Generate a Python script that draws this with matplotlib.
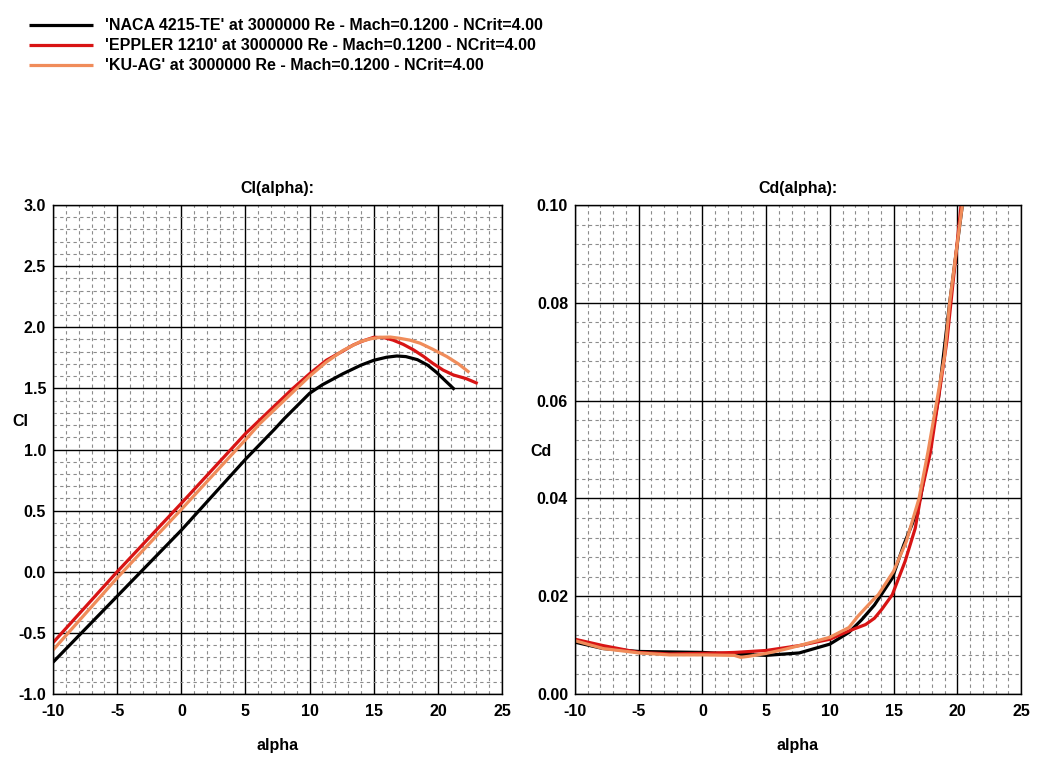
import matplotlib
matplotlib.use("Agg")
import matplotlib.pyplot as plt
from matplotlib.ticker import MultipleLocator

plt.rcParams['font.family'] = ['Liberation Sans', 'DejaVu Sans']
plt.rcParams['font.weight'] = 'bold'
plt.rcParams['axes.unicode_minus'] = False

# ---- data ----
labels = ["'NACA 4215-TE' at 3000000 Re - Mach=0.1200 - NCrit=4.00",
          "'EPPLER 1210' at 3000000 Re - Mach=0.1200 - NCrit=4.00",
          "'KU-AG' at 3000000 Re - Mach=0.1200 - NCrit=4.00"]
colors = ["#000000", "#d81414", "#f08c5a"]

# Cl(alpha)
naca_cl_a = [-10, -5, 0, 5, 7.3, 8, 10, 11, 12.6, 14, 15, 16, 16.8, 17.5, 18.4, 19.2, 19.9, 20.6, 21.3]
naca_cl = [-0.74, -0.20, 0.34, 0.92, 1.17, 1.25, 1.46, 1.53, 1.62, 1.69, 1.73, 1.755, 1.765, 1.76, 1.735,
           1.69, 1.63, 1.56, 1.49]
eppler_cl_a = [-10, -5, 0, 5, 6.1, 8.7, 10, 11.3, 12.5, 13.4, 14.2, 15, 15.8, 16.5, 17.3, 18.1, 18.9, 19.6,
               20.4, 21.2, 22.2, 23.1]
eppler_cl = [-0.58, 0.0, 0.56, 1.13, 1.24, 1.50, 1.62, 1.73, 1.80, 1.855, 1.89, 1.918, 1.915, 1.895, 1.86,
             1.815, 1.76, 1.705, 1.65, 1.61, 1.58, 1.54]
kuag_cl_a = [-10, -5, 0, 5, 6.1, 8.7, 10, 11.3, 12.6, 13.9, 14.7, 15.5, 16.3, 17.0, 17.8, 18.6, 19.6, 20.7,
             21.6, 22.45]
kuag_cl = [-0.64, -0.05, 0.51, 1.08, 1.21, 1.47, 1.60, 1.715, 1.81, 1.88, 1.905, 1.918, 1.92, 1.91, 1.895,
           1.87, 1.82, 1.76, 1.70, 1.63]

# Cd(alpha)
naca_cd_a = [-10, -7.8, -5, -2.5, 0, 2.5, 5, 7.6, 10, 11.5, 12.5, 13.5, 14.9, 15.8, 16.5, 17.1, 17.8, 18.5,
             19.4, 20.0, 20.4]
naca_cd = [0.0106, 0.0093, 0.0087, 0.0086, 0.0085, 0.0082, 0.0079, 0.0084, 0.0102, 0.0126, 0.0152, 0.0182,
           0.0237, 0.0305, 0.035, 0.040, 0.050, 0.060, 0.080, 0.092, 0.100]
eppler_cd_a = [-10, -7.8, -5, -2.6, 0, 2.5, 5, 7.6, 10, 11.5, 12.8, 13.5, 14.1, 14.9, 15.9, 16.7, 17.2, 17.9,
               18.5, 19.2, 19.8, 20.3]
eppler_cd = [0.0112, 0.0099, 0.0085, 0.0082, 0.0083, 0.0085, 0.0089, 0.0099, 0.0112, 0.0129, 0.0142, 0.0155,
             0.0174, 0.0203, 0.0271, 0.0339, 0.0414, 0.0495, 0.060, 0.0725, 0.0875, 0.100]
kuag_cd_a = [-10, -7.8, -5, -2.6, 0, 2.5, 3.0, 3.6, 5, 6.4, 7.6, 10, 11.5, 12.2, 13.3, 13.8, 15, 16.0, 17.0,
             17.7, 18.4, 19.0, 19.4, 19.9, 20.4]
kuag_cd = [0.0109, 0.0093, 0.0084, 0.0080, 0.0080, 0.0079, 0.0075, 0.0077, 0.0083, 0.0091, 0.0099, 0.0116,
           0.0136, 0.0159, 0.019, 0.0203, 0.0251, 0.0312, 0.040, 0.0495, 0.060, 0.0691, 0.080, 0.0902, 0.100]

cl_sets = [(naca_cl_a, naca_cl), (eppler_cl_a, eppler_cl), (kuag_cl_a, kuag_cl)]
cd_sets = [(naca_cd_a, naca_cd), (eppler_cd_a, eppler_cd), (kuag_cd_a, kuag_cd)]

fs = 11.5
lw = 2.3

fig = plt.figure(figsize=(10.46, 7.65), dpi=100)
ax_cl = fig.add_axes([0.0507, 0.0928, 0.4293, 0.6392])
ax_cd = fig.add_axes([0.5497, 0.0928, 0.4264, 0.6392])


def style_axis(ax, ylim, ymajor, yminor, fmt):
    ax.set_xlim(-10, 25)
    ax.set_ylim(*ylim)
    ax.xaxis.set_major_locator(MultipleLocator(5))
    ax.xaxis.set_minor_locator(MultipleLocator(1))
    ax.yaxis.set_major_locator(MultipleLocator(ymajor))
    ax.yaxis.set_minor_locator(MultipleLocator(yminor))
    ax.grid(which="major", color="black", linewidth=1.0, linestyle="-")
    ax.grid(which="minor", color="#8c8c8c", linewidth=0.8, linestyle=(0, (3, 3)))
    ax.set_axisbelow(True)
    ax.tick_params(which="both", length=0)
    ax.tick_params(axis="x", pad=7, labelsize=fs)
    ax.tick_params(axis="y", pad=5, labelsize=fs)
    ax.yaxis.set_major_formatter(fmt)
    for s in ax.spines.values():
        s.set_color("black")
        s.set_linewidth(1.0)
    for t in ax.get_xticklabels() + ax.get_yticklabels():
        t.set_fontweight("bold")


style_axis(ax_cl, (-1.0, 3.0), 0.5, 0.1, "{x:.1f}")
style_axis(ax_cd, (0.0, 0.10), 0.02, 0.004, "{x:.2f}")

handles = []
for (a, v), c, lab in zip(cl_sets, colors, labels):
    h, = ax_cl.plot(a, v, color=c, linewidth=lw, label=lab, solid_capstyle="butt")
    handles.append(h)
for (a, v), c in zip(cd_sets, colors):
    ax_cd.plot(a, v, color=c, linewidth=lw, solid_capstyle="butt")

ax_cl.set_title("Cl(alpha):", fontsize=fs, fontweight="bold", pad=9)
ax_cd.set_title("Cd(alpha):", fontsize=fs, fontweight="bold", pad=9)
ax_cl.set_xlabel("alpha", fontsize=fs, fontweight="bold", labelpad=14)
ax_cd.set_xlabel("alpha", fontsize=fs, fontweight="bold", labelpad=14)
ax_cl.set_ylabel("Cl", fontsize=fs, fontweight="bold", rotation=0, va="center")
ax_cd.set_ylabel("Cd", fontsize=fs, fontweight="bold", rotation=0, va="center")
ax_cl.yaxis.set_label_coords(-0.072, 0.558)
ax_cd.yaxis.set_label_coords(-0.076, 0.496)

fig.legend(handles=handles, labels=labels, loc="upper left", bbox_to_anchor=(0.014, 0.995),
           frameon=False, handlelength=4.0, handletextpad=0.75, labelspacing=0.31,
           prop={"weight": "bold", "size": fs})

fig.savefig("out.png", dpi=100)
